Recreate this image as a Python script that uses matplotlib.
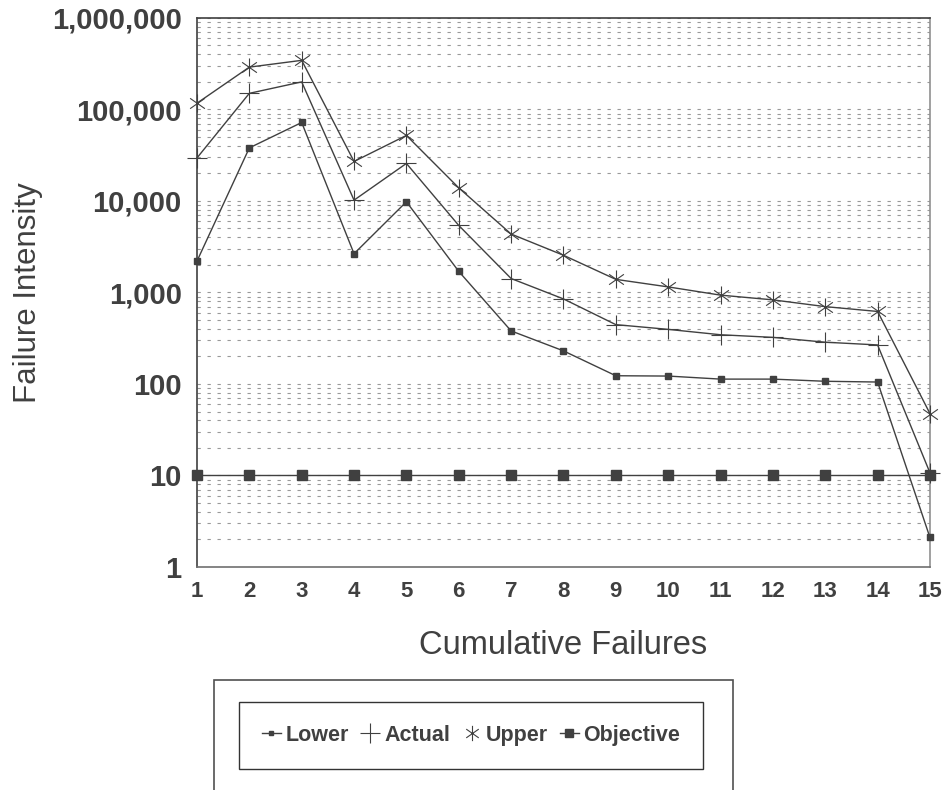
import matplotlib
matplotlib.use("Agg")
import matplotlib.pyplot as plt
import numpy as np
from matplotlib.lines import Line2D
from matplotlib.path import Path
from matplotlib.patches import Rectangle
from matplotlib.ticker import FixedLocator, FuncFormatter

plt.rcParams["font.family"] = ["Liberation Sans", "DejaVu Sans"]

failures = list(range(1, 16))
lower = [2200, 38000, 72000, 2650, 9800, 1700, 380, 230, 123, 122, 113, 113, 107, 105, 2.1]
actual = [29500, 150000, 200000, 10200, 25700, 5400, 1420, 850, 445, 395, 345, 323, 286, 267, 10.7]
upper = [117000, 290000, 344000, 27000, 52000, 13900, 4350, 2550, 1390, 1150, 935, 830, 700, 620, 47.5]
objective = [10] * 15
y_ticks = [1, 10, 100, 1000, 10000, 100000, 1000000]

INK = "#404040"

# six-armed asterisk marker
a = np.deg2rad(35)
ast = Path(
    [(0, -1), (0, 1),
     (-np.cos(a), -np.sin(a)), (np.cos(a), np.sin(a)),
     (-np.cos(a), np.sin(a)), (np.cos(a), -np.sin(a))],
    [Path.MOVETO, Path.LINETO] * 3,
)

fig = plt.figure(figsize=(9.47, 7.9), dpi=100)
ax = fig.add_axes([0.208, 0.2823, 0.774, 0.695])

ax.plot(failures, lower, "-", color=INK, lw=1, marker="s", ms=4, mfc=INK, mec=INK, clip_on=False, zorder=3)
ax.plot(failures, actual, "-", color=INK, lw=1, marker="+", ms=14, mew=0.8, mec=INK, clip_on=False, zorder=3)
ax.plot(failures, upper, "-", color=INK, lw=1, marker=ast, ms=13, mew=0.8, mec=INK, clip_on=False, zorder=3)
ax.plot(failures, objective, "-", color=INK, lw=1, marker="s", ms=7.5, mfc=INK, mec=INK, clip_on=False, zorder=3)

ax.set_yscale("log")
ax.set_ylim(1, 1000000)
ax.set_xlim(1, 15)
ax.set_xticks(failures)
ax.yaxis.set_major_locator(FixedLocator(y_ticks))
ax.yaxis.set_major_formatter(FuncFormatter(lambda v, p: f"{int(v):,}"))
ax.yaxis.set_minor_formatter(FuncFormatter(lambda v, p: ""))
ax.grid(True, which="both", axis="y", color="#999999", lw=0.8, ls=(0, (3, 6)))
ax.set_axisbelow(True)

ax.tick_params(axis="both", which="both", length=0, colors=INK)
ax.tick_params(axis="y", labelsize=21, pad=11)
ax.tick_params(axis="x", labelsize=16, pad=10)
for lab in ax.get_xticklabels() + ax.get_yticklabels():
    lab.set_fontweight("bold")

ax.spines["left"].set_color(INK)
ax.spines["top"].set_color(INK)
ax.spines["bottom"].set_color("#707070")
ax.spines["right"].set_color("#909090")
for s in ax.spines.values():
    s.set_linewidth(1.2)

ax.set_xlabel("Cumulative Failures", fontsize=23.5, color=INK, labelpad=20)
ax.set_ylabel("Failure Intensity", fontsize=22.5, color=INK, labelpad=6)

# outer legend frame
fig.patches.append(Rectangle((214 / 947, -0.01), (733 - 214) / 947, (790 - 680) / 790 + 0.01,
                             transform=fig.transFigure, fill=False, ec="#505050", lw=1.2))

handles = [
    Line2D([], [], color=INK, lw=1, marker="s", ms=3.5, mfc=INK, mec=INK),
    Line2D([], [], color=INK, lw=0, marker="+", ms=14, mew=0.8, mec=INK),
    Line2D([], [], color=INK, lw=0, marker=ast, ms=11, mew=0.8, mec=INK),
    Line2D([], [], color=INK, lw=1, marker="s", ms=6, mfc=INK, mec=INK),
]
leg = fig.legend(handles, ["Lower", "Actual", "Upper", "Objective"], ncol=4,
                 loc="center", bbox_to_anchor=(471 / 947, 1 - 735.5 / 790),
                 frameon=True, fancybox=False, edgecolor="black", fontsize=15.5,
                 handlelength=0.9, handletextpad=0.2, columnspacing=0.55,
                 borderpad=1.05, borderaxespad=0)
leg.get_frame().set_linewidth(1.0)
for t in leg.get_texts():
    t.set_fontweight("bold")
    t.set_color(INK)

fig.savefig("out.png", dpi=100)
